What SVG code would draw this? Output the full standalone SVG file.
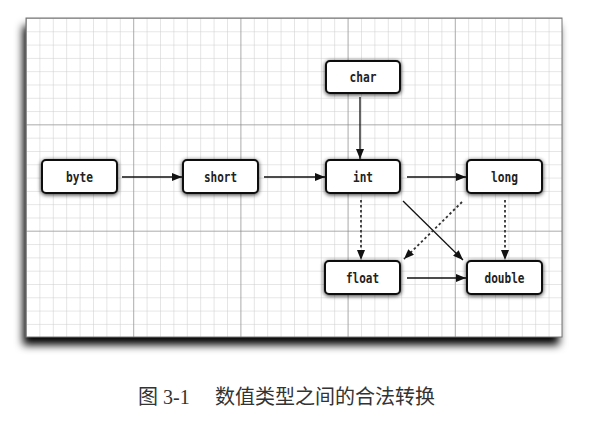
<svg xmlns="http://www.w3.org/2000/svg" width="601" height="426" viewBox="0 0 601 426">
<defs>
  <pattern id="minor" x="26" y="18" width="13.4" height="13.3" patternUnits="userSpaceOnUse">
    <path d="M0 0V13.3M0 0H13.4" fill="none" stroke="#cccccc" stroke-width="1"/>
  </pattern>
  <pattern id="major" x="26" y="18" width="107.2" height="106.33" patternUnits="userSpaceOnUse">
    <path d="M0 0V106.33M0 0H107.2" fill="none" stroke="#7a7a7a" stroke-width="1"/>
  </pattern>
  <filter id="panelShadow" x="-10%" y="-10%" width="120%" height="130%">
    <feGaussianBlur in="SourceAlpha" stdDeviation="4"/>
    <feOffset dx="-3" dy="8" result="b"/>
    <feComponentTransfer><feFuncA type="linear" slope="1"/></feComponentTransfer>
    <feMerge><feMergeNode/><feMergeNode in="SourceGraphic"/></feMerge>
  </filter>
  <filter id="boxShadow" x="-20%" y="-40%" width="140%" height="180%">
    <feGaussianBlur in="SourceAlpha" stdDeviation="2"/>
    <feOffset dx="0" dy="1"/>
    <feComponentTransfer><feFuncA type="linear" slope="0.8"/></feComponentTransfer>
    <feMerge><feMergeNode/><feMergeNode in="SourceGraphic"/></feMerge>
  </filter>
  <marker id="ah" viewBox="0 0 10 8" refX="10" refY="4" markerWidth="10" markerHeight="8" markerUnits="userSpaceOnUse" orient="auto">
    <path d="M0 0L10 4L0 8Z" fill="#111"/>
  </marker>
  <style>
    .node rect { fill: #fff; stroke: #111; stroke-width: 2; filter: url(#boxShadow); }
    .node text { font-family: "DejaVu Sans Mono", "Liberation Mono", monospace; font-size: 14px; font-weight: bold; fill: #222; text-anchor: middle; }
    .solid { stroke: #111; stroke-width: 1.3; fill: none; marker-end: url(#ah); }
    .dotted { stroke: #333; stroke-width: 1.8; stroke-dasharray: 2.5 2.5; fill: none; marker-end: url(#ah); }
    .caption { font-family: "Liberation Serif", "Noto Sans CJK SC", serif; font-size: 20px; fill: #333; }
  </style>
</defs>

<g id="panel">
  <rect x="26" y="18" width="536" height="319" fill="#fff" filter="url(#panelShadow)"/>
  <rect x="26" y="18" width="536" height="319" fill="url(#minor)"/>
  <rect x="26" y="18" width="536" height="319" fill="url(#major)"/>
  <rect x="26" y="18" width="536" height="319" fill="none" stroke="#777" stroke-width="1"/>
</g>

<g id="connectors">
  <line class="solid" x1="122" y1="177" x2="182" y2="177"/>
  <line class="solid" x1="264" y1="177" x2="325" y2="177"/>
  <line class="solid" x1="407" y1="177" x2="466" y2="177"/>
  <line class="solid" x1="360" y1="97" x2="360" y2="159"/>
  <line class="dotted" x1="361" y1="200" x2="361" y2="260"/>
  <line class="dotted" x1="505" y1="200" x2="505" y2="260"/>
  <line class="solid" x1="403" y1="201" x2="463" y2="260"/>
  <line class="dotted" x1="462" y1="202" x2="404" y2="259"/>
  <line class="solid" x1="407" y1="278" x2="466" y2="278"/>
</g>

<g id="node-byte" class="node"><rect x="42" y="160" width="75" height="33" rx="4"/><text x="79.5" y="181.5" textLength="27" lengthAdjust="spacingAndGlyphs">byte</text></g>
<g id="node-short" class="node"><rect x="183" y="160" width="75" height="33" rx="4"/><text x="220.5" y="181.5" textLength="33" lengthAdjust="spacingAndGlyphs">short</text></g>
<g id="node-char" class="node"><rect x="326" y="61" width="74" height="32" rx="4"/><text x="363" y="82" textLength="27" lengthAdjust="spacingAndGlyphs">char</text></g>
<g id="node-int" class="node"><rect x="326" y="160" width="74" height="33" rx="4"/><text x="363" y="181.5" textLength="20" lengthAdjust="spacingAndGlyphs">int</text></g>
<g id="node-long" class="node"><rect x="467" y="160" width="75" height="33" rx="4"/><text x="504.5" y="181.5" textLength="27" lengthAdjust="spacingAndGlyphs">long</text></g>
<g id="node-float" class="node"><rect x="325" y="261" width="75" height="33" rx="4"/><text x="362.5" y="282.5" textLength="33" lengthAdjust="spacingAndGlyphs">float</text></g>
<g id="node-double" class="node"><rect x="467" y="261" width="75" height="33" rx="4"/><text x="504.5" y="282.5" textLength="40" lengthAdjust="spacingAndGlyphs">double</text></g>

<g id="caption">
  <text class="caption" x="138" y="404">图 3-1</text>
  <text class="caption" x="215" y="404">数值类型之间的合法转换</text>
</g>
</svg>
